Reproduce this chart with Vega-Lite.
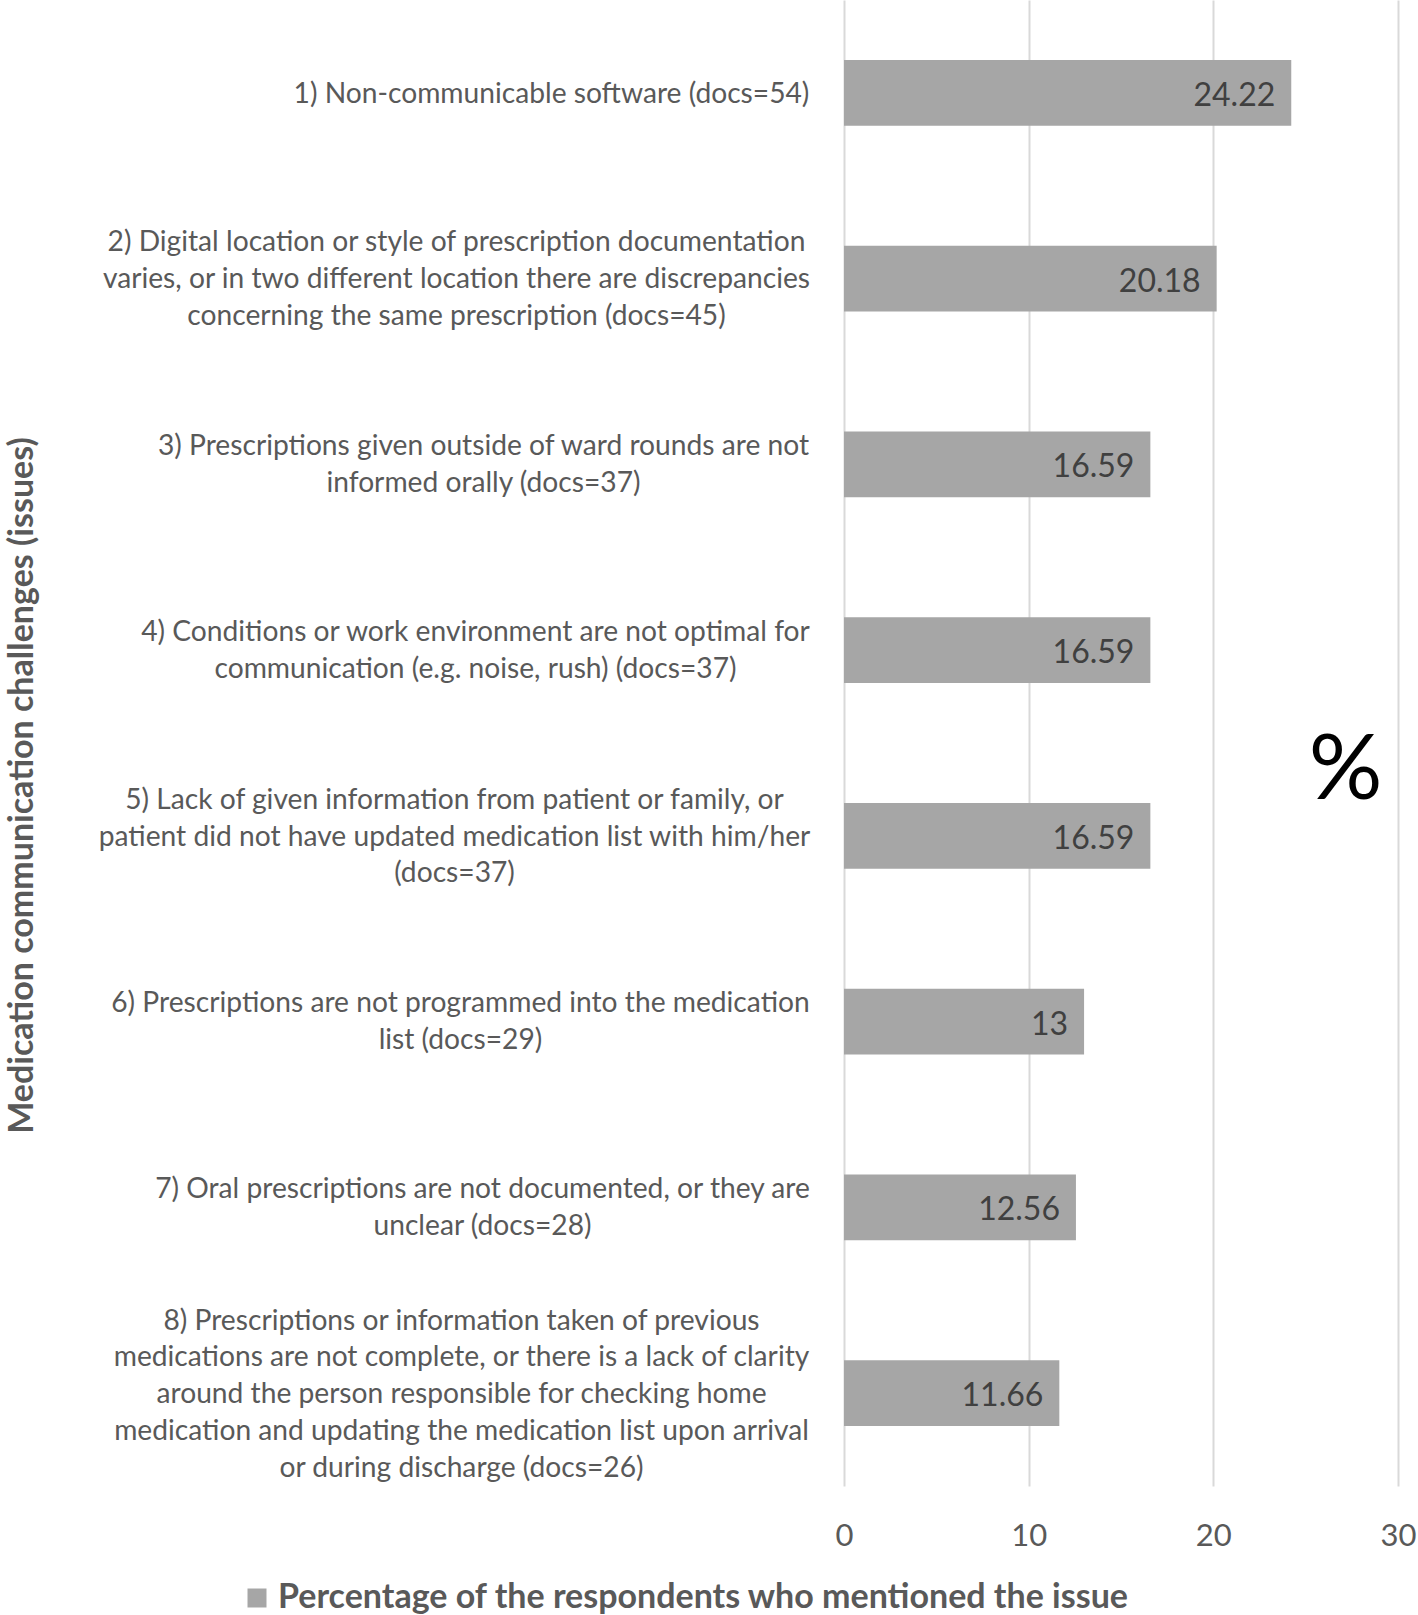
{
  "$schema": "https://vega.github.io/schema/vega-lite/v6.json",
  "autosize": {"type": "none"},
  "width": 554,
  "height": 1486,
  "padding": {"left": 844, "top": 0, "right": 20, "bottom": 129},
  "background": "white",
  "config": {"view": {"stroke": null}, "font": "Lato"},
  "data": {
    "values": [
      {"issue": "1) Non-communicable software  (docs=54)", "pct": 24.22},
      {"issue": "2) Digital location or style of prescription documentation|varies, or in two different location there are discrepancies|concerning the same prescription (docs=45)", "pct": 20.18},
      {"issue": "3) Prescriptions given outside of ward rounds are not|informed orally (docs=37)", "pct": 16.59},
      {"issue": "4) Conditions or work environment are not optimal for|communication (e.g. noise, rush) (docs=37)", "pct": 16.59},
      {"issue": "5) Lack of given information from patient or family, or|patient did not have updated medication list with him/her|(docs=37)", "pct": 16.59},
      {"issue": "6) Prescriptions are not programmed into the medication|list (docs=29)", "pct": 13},
      {"issue": "7) Oral prescriptions are not documented, or they are|unclear (docs=28)", "pct": 12.56},
      {"issue": "8) Prescriptions or information taken of previous|medications are not complete, or there is a lack of clarity|around the person responsible for checking home|medication and updating the medication list upon arrival|or during discharge (docs=26)", "pct": 11.66}
    ]
  },
  "encoding": {
    "y": {
      "field": "issue",
      "type": "nominal",
      "sort": null,
      "scale": {"paddingInner": 0.645, "paddingOuter": 0.3225},
      "axis": {
        "title": "Medication communication challenges (issues)",
        "titleFont": "Lato",
        "titleFontWeight": "bold",
        "titleFontSize": 34,
        "titleColor": "#595959",
        "titleAngle": -90,
        "titleX": -812,
        "titleY": 785,
        "titleAlign": "center",
        "titleBaseline": "alphabetic",
        "labelExpr": "split(datum.label, '|')",
        "labelFont": "Lato",
        "labelFontSize": 28.2,
        "labelColor": "#595959",
        "labelLineHeight": 36.7,
        "labelAlign": "center",
        "labelBaseline": "middle",
        "labelPadding": {
          "condition": [
            {"test": "substring(datum.value,0,1)=='1'", "value": 293},
            {"test": "substring(datum.value,0,1)=='2'", "value": 388},
            {"test": "substring(datum.value,0,1)=='3'", "value": 361},
            {"test": "substring(datum.value,0,1)=='4'", "value": 369},
            {"test": "substring(datum.value,0,1)=='5'", "value": 390},
            {"test": "substring(datum.value,0,1)=='6'", "value": 384},
            {"test": "substring(datum.value,0,1)=='7'", "value": 362}
          ],
          "value": 383
        },
        "labelOffset": {
          "condition": [
            {"test": "substring(datum.value,0,1)=='1'", "value": 2},
            {"test": "substring(datum.value,0,1)=='2'", "value": -35.5},
            {"test": "substring(datum.value,0,1)=='5'", "value": -35},
            {"test": "substring(datum.value,0,1)=='8'", "value": -71.4}
          ],
          "value": -17.2
        },
        "labelLimit": 0,
        "ticks": false,
        "tickSize": 0,
        "domain": false,
        "grid": false
      }
    },
    "x": {
      "field": "pct",
      "type": "quantitative",
      "scale": {"domain": [0, 30], "nice": false},
      "axis": {
        "values": [0, 10, 20, 30],
        "title": "%",
        "titleFont": "Lato",
        "titleFontWeight": "normal",
        "titleFontSize": 92,
        "titleColor": "#000000",
        "titleX": 501,
        "titleY": -716,
        "titleAlign": "center",
        "titleBaseline": "middle",
        "labelFont": "Lato",
        "labelFontSize": 31,
        "labelColor": "#595959",
        "labelBaseline": "middle",
        "labelPadding": 50,
        "labelFlush": false,
        "labelOverlap": false,
        "ticks": false,
        "tickSize": 0,
        "domain": false,
        "grid": true,
        "gridColor": "#d9d9d9",
        "gridWidth": 2
      }
    }
  },
  "layer": [
    {
      "mark": {"type": "bar", "color": "#a6a6a6"},
      "encoding": {
        "color": {
          "datum": "Percentage of the respondents who mentioned the issue",
          "type": "nominal",
          "scale": {"range": ["#a6a6a6"]},
          "legend": {
            "title": null,
            "orient": "none",
            "legendX": -604,
            "legendY": 1581,
            "symbolType": "square",
            "symbolSize": 361,
            "symbolStrokeWidth": 0,
            "symbolOpacity": 1,
            "labelFont": "Lato",
            "labelFontWeight": "bold",
            "labelFontSize": 34,
            "labelColor": "#595959",
            "labelLimit": 0,
            "labelOffset": 4
          }
        }
      }
    },
    {
      "mark": {"type": "text", "align": "right", "baseline": "middle", "dx": -16, "dy": 3, "font": "Lato", "fontSize": 32, "color": "#404040"},
      "encoding": {"text": {"field": "pct", "type": "quantitative"}}
    }
  ]
}
